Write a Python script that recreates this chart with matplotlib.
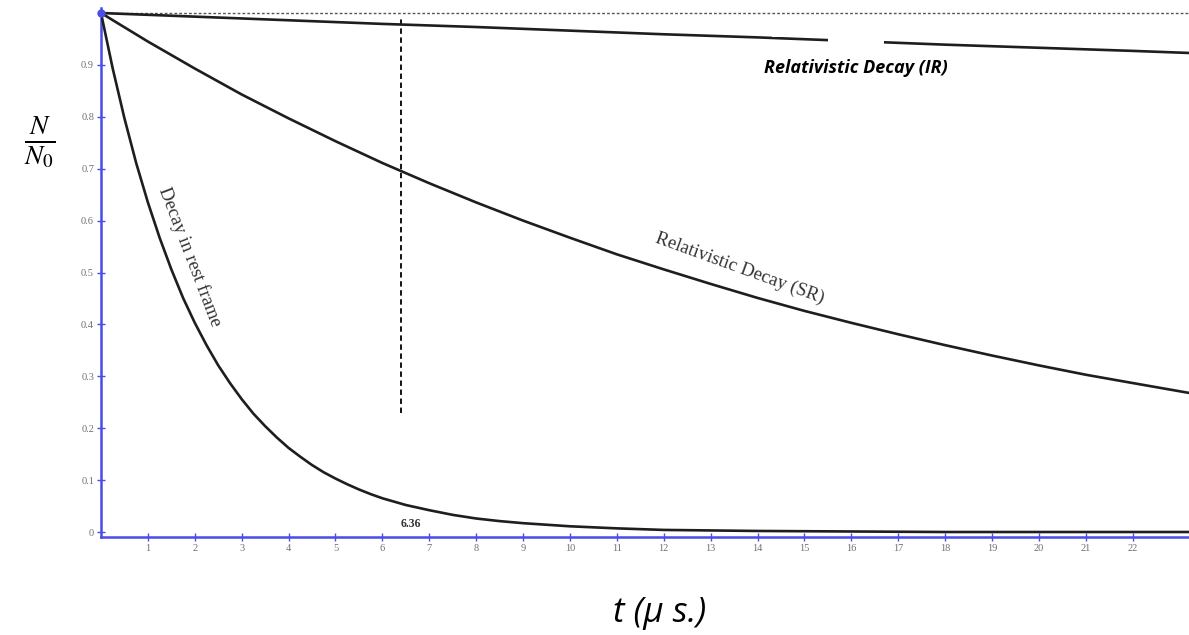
import numpy as np
import matplotlib
matplotlib.use("Agg")
import matplotlib.pyplot as plt
from matplotlib.patches import Rectangle

plt.rcParams["mathtext.fontset"] = "stix"

# values (t in micro-seconds, N/N0)
t_rest = [0, 0.25, 0.5, 0.75, 1.0, 1.25, 1.5, 1.75, 2.0, 2.25, 2.5, 2.75, 3.0,
          3.25, 3.5, 3.75, 4.0, 4.25, 4.5, 4.75, 5.0, 5.25, 5.5, 5.75, 6.0,
          6.5, 7.0, 7.5, 8.0, 8.5, 9.0, 10, 11, 12, 13, 14, 16, 18, 20, 23.2]
n_rest = [1.000, 0.893, 0.797, 0.711, 0.635, 0.567, 0.506, 0.451, 0.403, 0.360,
          0.321, 0.287, 0.256, 0.228, 0.204, 0.182, 0.162, 0.145, 0.129, 0.115,
          0.103, 0.092, 0.082, 0.073, 0.065, 0.052, 0.042, 0.033, 0.026, 0.021,
          0.017, 0.011, 0.007, 0.004, 0.003, 0.002, 0.001, 0.000, 0.000, 0.000]

t_sr = [0, 1, 2, 3, 4, 5, 6, 7, 8, 9, 10, 11, 12, 13, 14, 15, 16, 17, 18, 19,
        20, 21, 22, 23.2]
n_sr = [1.000, 0.945, 0.893, 0.843, 0.797, 0.753, 0.711, 0.672, 0.635, 0.600,
        0.567, 0.535, 0.506, 0.478, 0.451, 0.426, 0.403, 0.381, 0.360, 0.340,
        0.321, 0.303, 0.287, 0.268]

t_ir = [0, 2, 4, 6, 8, 10, 12, 14, 16, 18, 20, 22, 23.2]
n_ir = [1.000, 0.993, 0.986, 0.979, 0.973, 0.966, 0.959, 0.953, 0.946, 0.939,
        0.933, 0.927, 0.923]

t_mark = 6.4
mark_span = [0.23, 0.99]
ir_thin = [14.3, 15.5]
ir_gap = [15.5, 16.7]

x_ticks = list(range(1, 23))
y_ticks = [0, 0.1, 0.2, 0.3, 0.4, 0.5, 0.6, 0.7, 0.8, 0.9]
y_ticklabels = ["0", "0.1", "0.2", "0.3", "0.4", "0.5", "0.6", "0.7", "0.8", "0.9"]

blue = "#4b4be8"
curve = "#1e1e1e"

fig = plt.figure(figsize=(11.89, 6.35), dpi=100)
ax = fig.add_axes([101 / 1189, 1 - 537 / 635, 1 - 101 / 1189, 529 / 635])
ax.set_xlim(0, 23.2)
ax.set_ylim(-5 / 519, 1 + 5 / 519)

# reference line at N/N0 = 1
ax.axhline(1.0, color="#555555", lw=1.0, ls=(0, (2, 1.5)), zorder=1)

ax.plot(t_rest, n_rest, color=curve, lw=1.9, zorder=3)
ax.plot(t_sr, n_sr, color=curve, lw=1.9, zorder=3)
ax.plot(t_ir, n_ir, color=curve, lw=1.9, zorder=3)
# the IR curve is partly hidden in the original: a thin stretch, then a gap
ax.add_patch(Rectangle((ir_thin[0], 0.9545), ir_thin[1] - ir_thin[0], 0.01,
                       facecolor="white", edgecolor="none", zorder=4))
ax.add_patch(Rectangle((ir_gap[0], 0.93), ir_gap[1] - ir_gap[0], 0.03,
                       facecolor="white", edgecolor="none", zorder=4))

ax.vlines(t_mark, mark_span[0], mark_span[1], colors="black", lw=1.3,
          linestyles=(0, (3, 2)), zorder=2)

ax.plot([0], [1], marker="o", ms=5, color=blue, clip_on=False, zorder=5)

for s in ["top", "right"]:
    ax.spines[s].set_visible(False)
for s in ["left", "bottom"]:
    ax.spines[s].set_color(blue)
    ax.spines[s].set_linewidth(1.8)

ax.set_xticks(x_ticks)
ax.set_xticklabels([str(v) for v in x_ticks])
ax.set_yticks(y_ticks)
ax.set_yticklabels(y_ticklabels)
ax.tick_params(axis="both", direction="inout", length=6, width=1.0, color=blue,
               labelcolor="#707070", labelsize=7.5, pad=2)
for lab in ax.get_xticklabels() + ax.get_yticklabels():
    lab.set_family("Liberation Serif")

ax.text(1.90, 0.53, "Decay in rest frame", rotation=-69, ha="center",
        va="center", family="Liberation Serif", fontsize=13.5, color="#333333",
        rotation_mode="anchor")
ax.text(13.62, 0.507, "Relativistic Decay (SR)", rotation=-20, ha="center",
        va="center", family="Liberation Serif", fontsize=13.5, color="#333333",
        rotation_mode="anchor")
ax.text(16.1, 0.894, "Relativistic Decay (IR)", ha="center", va="center",
        family="Open Sans", style="italic", weight="bold", fontsize=13,
        color="black")
ax.text(6.6, 0.016, "6.36", ha="center", va="center", family="Liberation Serif",
        weight="bold", fontsize=8.5, color="#333333")

fig.text(40 / 1189, 1 - 142 / 635, r"$\frac{N}{N_0}$", ha="center", va="center",
         fontsize=28)
fig.text(660 / 1189, 1 - 613 / 635, "t (μ s.)", ha="center", va="center",
         family="Open Sans", style="italic", fontsize=25)

fig.savefig("out.png", dpi=100)
